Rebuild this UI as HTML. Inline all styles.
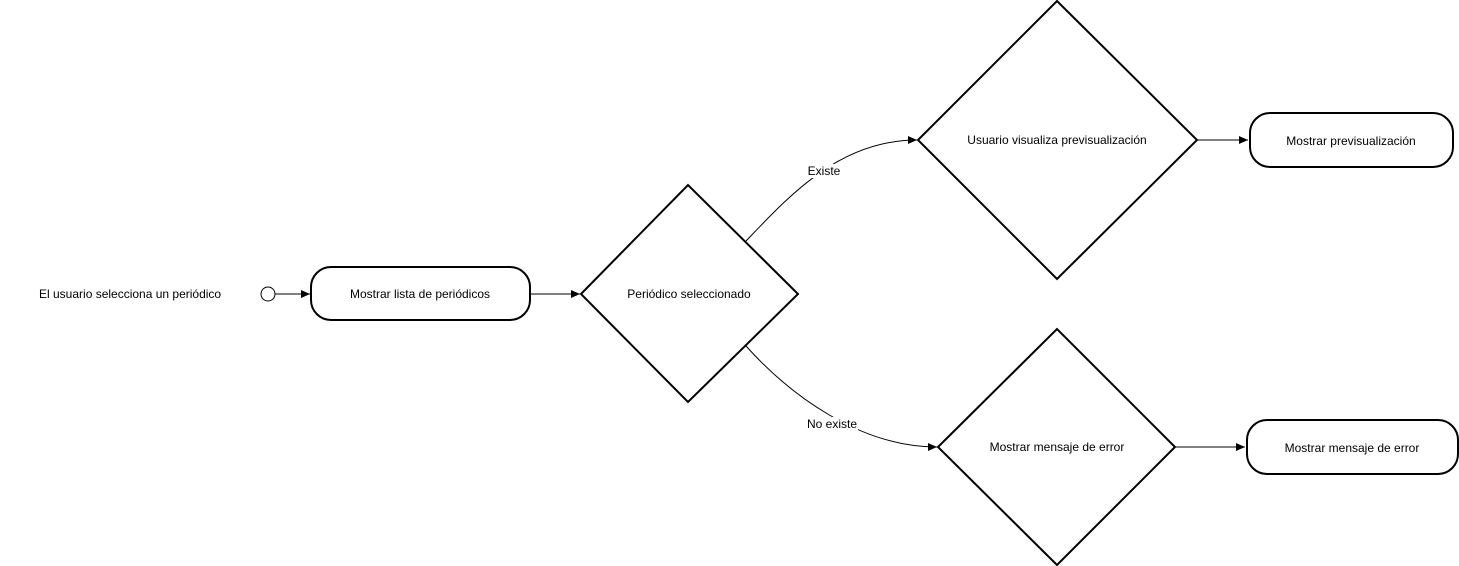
<!DOCTYPE html>
<html><head><meta charset="utf-8"><style>
html,body{margin:0;padding:0;background:#fff;}
svg{display:block;}
text{font-family:"Liberation Sans",Arial,sans-serif;font-size:12px;fill:#000;}
</style></head><body>
<svg width="1459" height="566" viewBox="0 0 1459 566" xmlns="http://www.w3.org/2000/svg">
<defs>
<marker id="a" markerWidth="10" markerHeight="10" refX="9" refY="5" orient="auto" markerUnits="userSpaceOnUse">
<path d="M0,1 L9,5 L0,9 Z" fill="#000"/>
</marker>
</defs>
<text x="39" y="298">El usuario selecciona un periódico</text>
<circle cx="268" cy="294" r="7" fill="#fff" stroke="#000" stroke-width="1"/>
<line x1="275" y1="294" x2="310" y2="294" stroke="#000" marker-end="url(#a)"/>
<rect x="311" y="267" width="219" height="53" rx="20" fill="#fff" stroke="#000" stroke-width="2"/>
<text x="420" y="298" text-anchor="middle">Mostrar lista de periódicos</text>
<line x1="530" y1="294" x2="580" y2="294" stroke="#000" marker-end="url(#a)"/>
<polygon points="581,294 688,185 798,294 688,402" fill="#fff" stroke="#000" stroke-width="2"/>
<text x="689" y="298" text-anchor="middle">Periódico seleccionado</text>
<path d="M746,241 C790,195 840,140 917,140" fill="none" stroke="#000" marker-end="url(#a)"/>
<rect x="808" y="164" width="32" height="14" fill="#fff"/>
<text x="824" y="175" text-anchor="middle">Existe</text>
<path d="M746,346 C790,395 860,447 937,447" fill="none" stroke="#000" marker-end="url(#a)"/>
<rect x="808" y="417" width="50" height="14" fill="#fff"/>
<text x="832" y="428" text-anchor="middle">No existe</text>
<polygon points="918,140 1057,1 1197,140 1057,279" fill="#fff" stroke="#000" stroke-width="2"/>
<text x="1057" y="144" text-anchor="middle">Usuario visualiza previsualización</text>
<line x1="1197" y1="140" x2="1248" y2="140" stroke="#000" marker-end="url(#a)"/>
<rect x="1250" y="113" width="203" height="54" rx="20" fill="#fff" stroke="#000" stroke-width="2"/>
<text x="1351" y="145" text-anchor="middle">Mostrar previsualización</text>
<polygon points="938,447 1057,329 1175,447 1057,565" fill="#fff" stroke="#000" stroke-width="2"/>
<text x="1057" y="451" text-anchor="middle">Mostrar mensaje de error</text>
<line x1="1175" y1="447" x2="1245" y2="447" stroke="#000" marker-end="url(#a)"/>
<rect x="1247" y="420" width="211" height="54" rx="20" fill="#fff" stroke="#000" stroke-width="2"/>
<text x="1352" y="452" text-anchor="middle">Mostrar mensaje de error</text>
</svg>
</body></html>
